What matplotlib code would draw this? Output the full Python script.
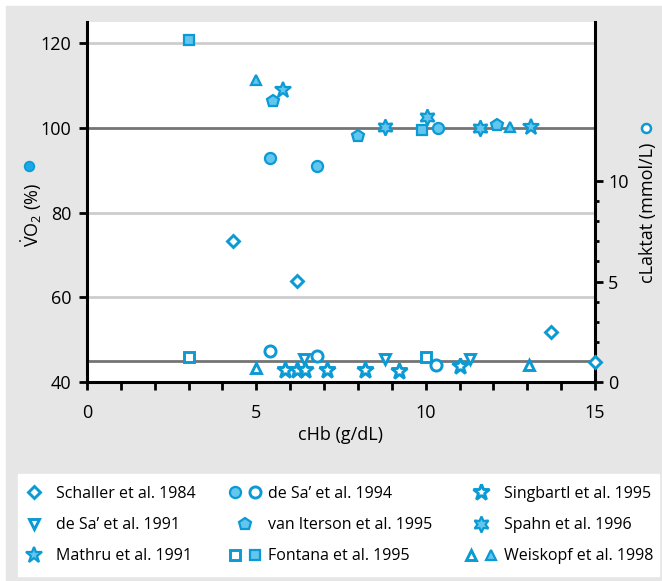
import matplotlib
matplotlib.use("Agg")
import matplotlib.pyplot as plt
from matplotlib.lines import Line2D
from matplotlib.patches import Rectangle
from matplotlib.legend_handler import HandlerTuple
from matplotlib.ticker import FixedLocator, MultipleLocator

plt.rcParams["font.family"] = ["Open Sans", "DejaVu Sans"]
plt.rcParams["mathtext.fontset"] = "custom"
plt.rcParams["mathtext.rm"] = "Open Sans"
plt.rcParams["mathtext.it"] = "Open Sans:italic"

# --- VO2 (%) values, filled symbols, left axis ---
fontana_vo2_x = [3.0, 9.9]
fontana_vo2_y = [120.7, 99.5]
weiskopf_vo2_x = [5.0, 12.5]
weiskopf_vo2_y = [111.3, 100.2]
mathru_vo2_x = [5.78, 13.1]
mathru_vo2_y = [108.9, 100.2]
iterson_vo2_x = [5.5, 8.0, 12.1]
iterson_vo2_y = [106.3, 98.0, 100.6]
desa94_vo2_x = [5.4, 6.8, 10.35]
desa94_vo2_y = [92.9, 91.0, 100.0]
spahn_vo2_x = [8.8, 10.05, 11.6]
spahn_vo2_y = [100.2, 102.6, 100.0]

# --- lactate (mmol/L), open symbols, right axis ---
schaller_lac_x = [4.3, 6.2, 13.7, 15.0]
schaller_lac_y = [7.0, 5.05, 2.5, 1.0]
fontana_lac_x = [3.0, 10.0]
fontana_lac_y = [1.25, 1.25]
weiskopf_lac_x = [5.0, 13.05]
weiskopf_lac_y = [0.7, 0.85]
desa94_lac_x = [5.4, 6.8, 10.3]
desa94_lac_y = [1.55, 1.3, 0.85]
desa91_lac_x = [6.4, 8.8, 11.3]
desa91_lac_y = [1.15, 1.15, 1.15]
singbartl_lac_x = [5.85, 6.2, 6.45, 7.1, 8.2, 9.2, 11.0]
singbartl_lac_y = [0.6, 0.6, 0.6, 0.6, 0.6, 0.55, 0.8]

x_ticks = [0, 5, 10, 15]
left_ticks = [40, 60, 80, 100, 120]
right_ticks = [0, 5, 10]
light_lines = [60, 80, 120]
dark_lines = [45, 100]

EDGE = "#0b9ad4"
FILL = "#62c6ee"
STAR6 = (6, 1, 0)

# marker shape and size for each symbol type
SYM = {
    "diamond": ("D", 6.3),
    "circle": ("o", 8.0),
    "square": ("s", 7.5),
    "tri": ("^", 7.5),
    "tri_down": ("v", 7.5),
    "pent": ("p", 9.0),
    "star": ("*", 12.0),
    "star6": (STAR6, 11.5),
}


def mk(kind, filled, **kw):
    marker, ms = SYM[kind]
    return dict(ls="none", marker=marker, ms=ms, mec=EDGE,
                mfc=FILL if filled else "white",
                mew=1.6 if filled else 2.1, **kw)


fig = plt.figure(figsize=(6.62, 5.81), dpi=100)
fig.patch.set_facecolor("white")
fig.add_artist(Rectangle((6 / 662, 0), 656 / 662, 575 / 581,
                         transform=fig.transFigure, color="#e6e6e6", zorder=-10))
fig.add_artist(Rectangle((18 / 662, 5 / 581), 641 / 662, 102 / 581,
                         transform=fig.transFigure, color="white", zorder=-9))

ax = fig.add_axes([87 / 662, 1 - 382 / 581, 508 / 662, 360 / 581])
ax.set_facecolor("white")
ax2 = ax.twinx()

for y in light_lines:
    ax.axhline(y, color="#cdcdcd", lw=2.0, zorder=1)
for y in dark_lines:
    ax.axhline(y, color="#747474", lw=2.0, zorder=1)

ax.plot(fontana_vo2_x, fontana_vo2_y, **mk("square", True), clip_on=False, zorder=5)
ax.plot(weiskopf_vo2_x, weiskopf_vo2_y, **mk("tri", True), clip_on=False, zorder=5)
ax.plot(mathru_vo2_x, mathru_vo2_y, **mk("star", True), clip_on=False, zorder=5)
ax.plot(iterson_vo2_x, iterson_vo2_y, **mk("pent", True), clip_on=False, zorder=5)
ax.plot(desa94_vo2_x, desa94_vo2_y, **mk("circle", True), clip_on=False, zorder=5)
ax.plot(spahn_vo2_x, spahn_vo2_y, **mk("star6", True), clip_on=False, zorder=5)

ax2.plot(schaller_lac_x, schaller_lac_y, **mk("diamond", False), clip_on=False, zorder=5)
ax2.plot(fontana_lac_x, fontana_lac_y, **mk("square", False), clip_on=False, zorder=5)
ax2.plot(weiskopf_lac_x, weiskopf_lac_y, **mk("tri", False), clip_on=False, zorder=5)
ax2.plot(desa94_lac_x, desa94_lac_y, **mk("circle", False), clip_on=False, zorder=5)
ax2.plot(desa91_lac_x, desa91_lac_y, **mk("tri_down", False), clip_on=False, zorder=5)
ax2.plot(singbartl_lac_x, singbartl_lac_y, **mk("star", False), clip_on=False, zorder=5)

ax.set_xlim(0, 15)
ax.set_ylim(40, 125)
ax2.set_ylim(0, 85 / 4.743)

ax.set_xticks(x_ticks)
ax.xaxis.set_minor_locator(MultipleLocator(1))
ax.set_yticks(left_ticks)
ax2.set_yticks(right_ticks)
ax2.yaxis.set_minor_locator(FixedLocator(range(1, 10)))

ax.tick_params(axis="both", which="both", direction="out", length=5.5,
               width=2, labelsize=13, color="black")
ax.tick_params(axis="x", which="major", pad=10)
ax.tick_params(axis="y", which="major", pad=6)
ax2.tick_params(axis="y", which="major", direction="out", length=5.5,
                width=2, labelsize=13, pad=4)
ax2.tick_params(axis="y", which="minor", direction="out", length=3, width=2)

for s in ("top", "right"):
    ax.spines[s].set_visible(False)
for s in ("top", "left", "bottom"):
    ax2.spines[s].set_visible(False)
for sp in (ax.spines["left"], ax.spines["bottom"], ax2.spines["right"]):
    sp.set_linewidth(2.2)
    sp.set_color("black")

ax.set_xlabel("cHb (g/dL)", fontsize=13, labelpad=3)
ax.text(-0.108, 0.464, r"$\dot{\mathrm{V}}\mathrm{O}_2$ (%)", rotation=90,
        ha="center", va="center", fontsize=13, transform=ax.transAxes)
ax.plot([-0.114], [0.6], ls="none", marker="o", ms=7, mfc="#1aa8e6", mec=EDGE,
        mew=1.2, transform=ax.transAxes, clip_on=False)
ax2.text(1.104, 0.469, "cLaktat (mmol/L)", rotation=90, ha="center",
         va="center", fontsize=13, transform=ax2.transAxes)
ax2.plot([1.1], [0.706], ls="none", marker="o", ms=6.5, mfc="white", mec=EDGE,
         mew=1.8, transform=ax2.transAxes, clip_on=False)


def h(kind, filled):
    return Line2D([], [], **mk(kind, filled))


handles = [
    h("diamond", False),
    h("tri_down", False),
    h("star", True),
    (h("circle", True), h("circle", False)),
    h("pent", True),
    (h("square", False), h("square", True)),
    h("star", False),
    h("star6", True),
    (h("tri", False), h("tri", True)),
]
labels = [
    "Schaller et al. 1984",
    "de Sa\u2019 et al. 1991",
    "Mathru et al. 1991",
    "de Sa\u2019 et al. 1994",
    "van Iterson et al. 1995",
    "Fontana et al. 1995",
    "Singbartl et al. 1995",
    "Spahn et al. 1996",
    "Weiskopf et al. 1998",
]
fig.legend(handles, labels, loc="upper left", ncol=3, mode="expand",
           bbox_to_anchor=(10 / 662, 5 / 581, 651 / 662, 98 / 581),
           frameon=False, fontsize=11.5, handlelength=2.0, handletextpad=0.4,
           labelspacing=0.95, borderaxespad=0, borderpad=0.5,
           handler_map={tuple: HandlerTuple(ndivide=None)})

fig.savefig("out.png", dpi=100, facecolor=fig.get_facecolor())
